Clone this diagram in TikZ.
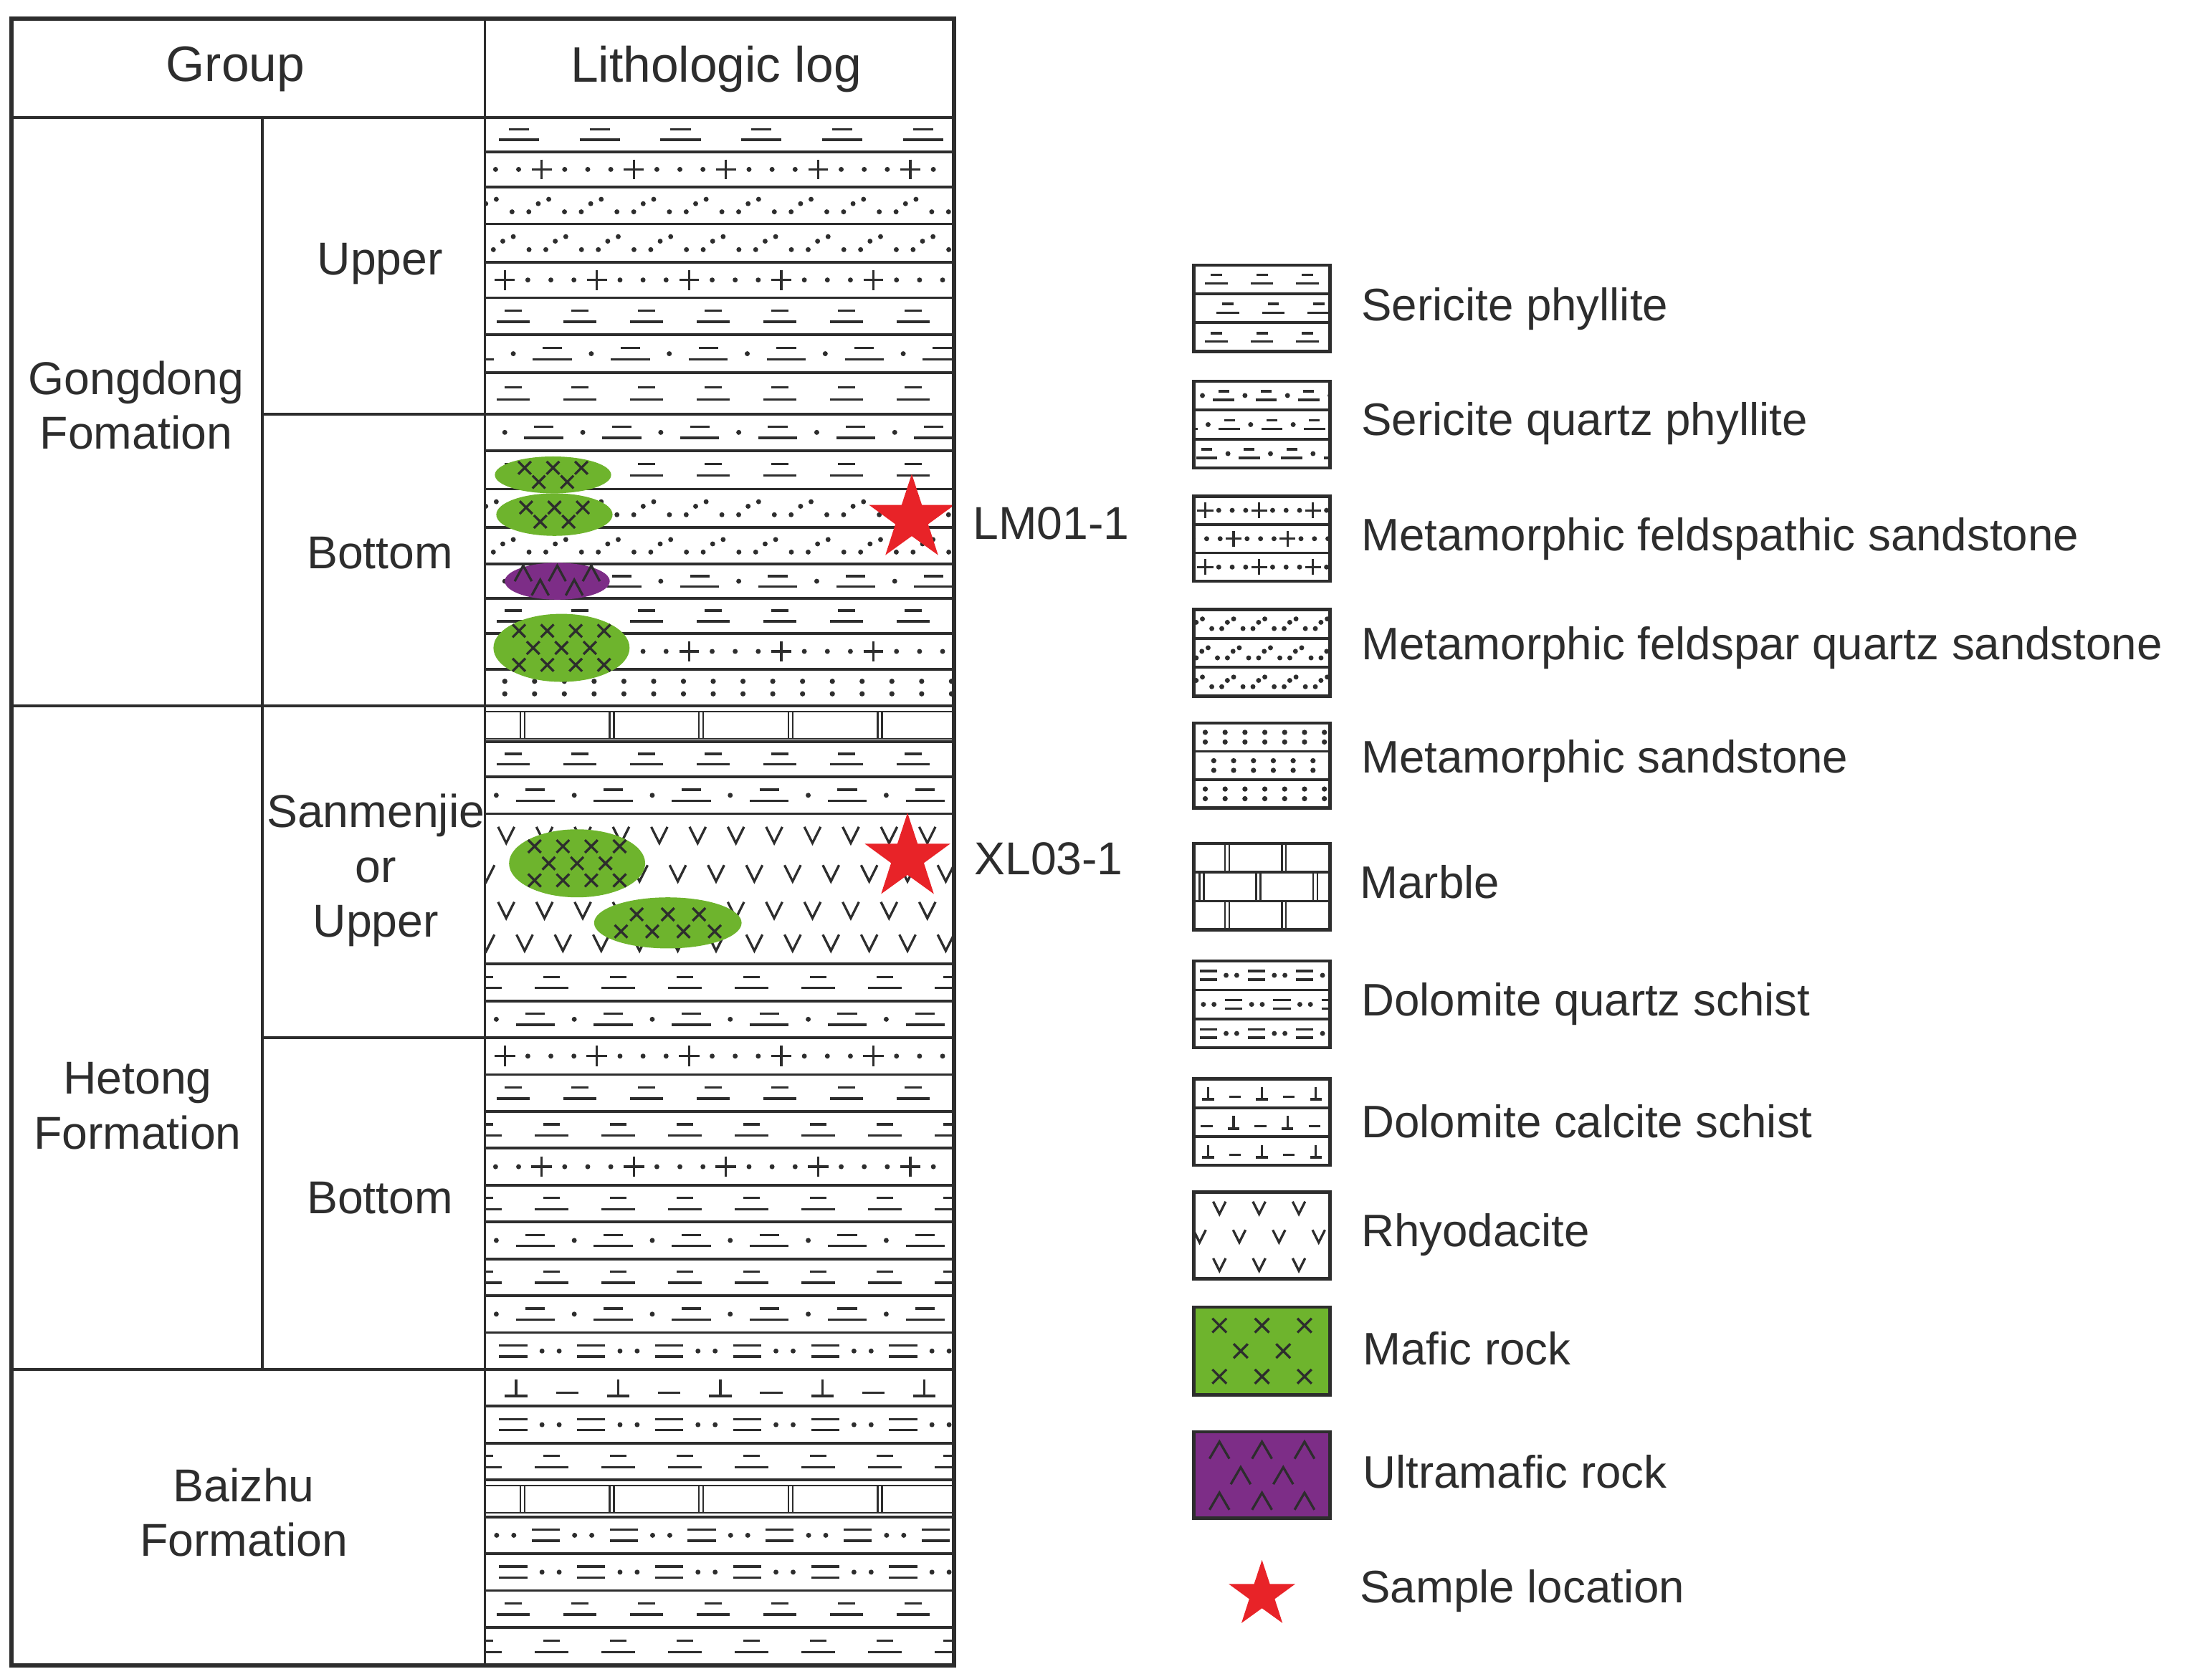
\documentclass[tikz,border=0pt]{standalone}
\usepackage{fontspec}\setmainfont{Liberation Sans}
\usetikzlibrary{shapes.geometric}
\definecolor{maf}{RGB}{110,180,45}
\definecolor{umaf}{RGB}{125,45,135}
\definecolor{sred}{RGB}{232,35,40}
\definecolor{ink}{RGB}{45,45,45}
\tikzset{pat/.style={draw=ink,line width=0.95pt},
 lay/.style={draw=ink,line width=1.1pt},
 frame/.style={draw=ink,line width=1.7pt},
 lab/.style={font=\fontsize{18.5}{22}\selectfont,text=ink,align=center},
 leg/.style={font=\fontsize{18.3}{21}\selectfont,text=ink,anchor=west},
 smp/.style={star,star points=5,star point ratio=2.6,fill=sred,inner sep=0pt,minimum size=36pt}}
% #1 xl #2 xr #3 yt #4 yb #5 offset #6 period
\newcommand\patP[6]{\begin{scope}\clip (#1,#3) rectangle (#2,#4);\pgfmathsetmacro\ym{(#3+#4)/2}\pgfmathsetmacro\dy{(#4-#3)*0.15}
\foreach \i in {-1,...,12}{\draw[pat] ({#1+#5+\i*#6-#6*0.25},{\ym+\dy}) -- ++({#6*0.5},0); \draw[pat] ({#1+#5+\i*#6-#6*0.125},{\ym-\dy}) -- ++({#6*0.25},0);}\end{scope}}
\newcommand\patQ[6]{\begin{scope}\clip (#1,#3) rectangle (#2,#4);\pgfmathsetmacro\ym{(#3+#4)/2}\pgfmathsetmacro\dy{(#4-#3)*0.15}
\foreach \i in {-1,...,12}{\fill[ink] ({#1+#5+\i*#6},\ym) circle (1pt); \draw[pat] ({#1+#5+\i*#6+#6*0.25},{\ym+\dy}) -- ++({#6*0.5},0); \draw[pat] ({#1+#5+\i*#6+#6*0.375},{\ym-\dy}) -- ++({#6*0.25},0);}\end{scope}}
\newcommand\patF[6]{\begin{scope}\clip (#1,#3) rectangle (#2,#4);\pgfmathsetmacro\ym{(#3+#4)/2}\pgfmathsetmacro\dy{(#4-#3)*0.28}
\foreach \i in {-1,...,12}{\draw[pat] ({#1+#5+\i*#6-\dy},\ym) -- ++({2*\dy},0) ({#1+#5+\i*#6},{\ym-\dy}) -- ++(0,{2*\dy});
\fill[ink] ({#1+#5+\i*#6+#6*0.25},\ym) circle (1pt) ({#1+#5+\i*#6+#6*0.5},\ym) circle (1pt) ({#1+#5+\i*#6+#6*0.75},\ym) circle (1pt);}\end{scope}}
\newcommand\patS[6]{\begin{scope}\clip (#1,#3) rectangle (#2,#4);\pgfmathsetmacro\ym{(#3+#4)/2}\pgfmathsetmacro\dy{(#4-#3)*0.17}
\foreach \i in {-1,...,16}{\fill[ink] ({#1+#5+\i*#6},{\ym-\dy}) circle (1pt) ({#1+#5+\i*#6+#6*0.3},{\ym+\dy}) circle (1pt) ({#1+#5+\i*#6+#6*0.62},{\ym+\dy}) circle (1pt) ({#1+#5+\i*#6+#6*0.8},{\ym-\dy*0.3}) circle (1pt);}\end{scope}}
\newcommand\patM[6]{\begin{scope}\clip (#1,#3) rectangle (#2,#4);\pgfmathsetmacro\ym{(#3+#4)/2}\pgfmathsetmacro\dy{(#4-#3)*0.17}
\foreach \i in {0,...,20}{\fill[ink] ({#1+#5+\i*#6},{\ym-\dy}) circle (1.05pt) ({#1+#5+\i*#6},{\ym+\dy}) circle (1.05pt);}\end{scope}}
\newcommand\patD[6]{\begin{scope}\clip (#1,#3) rectangle (#2,#4);\pgfmathsetmacro\ym{(#3+#4)/2}\pgfmathsetmacro\dy{(#4-#3)*0.15}
\foreach \i in {-1,...,12}{\draw[pat] ({#1+#5+\i*#6},{\ym-\dy}) -- ++({#6*0.36},0) ({#1+#5+\i*#6},{\ym+\dy}) -- ++({#6*0.36},0);
\fill[ink] ({#1+#5+\i*#6+#6*0.55},\ym) circle (1pt) ({#1+#5+\i*#6+#6*0.77},\ym) circle (1pt);}\end{scope}}
\newcommand\patC[6]{\begin{scope}\clip (#1,#3) rectangle (#2,#4);\pgfmathsetmacro\ym{(#3+#4)/2}\pgfmathsetmacro\dy{(#4-#3)*0.22}
\foreach \i in {-1,...,12}{\draw[pat] ({#1+#5+\i*#6-#6*0.11},{\ym+\dy}) -- ++({#6*0.22},0) ({#1+#5+\i*#6},{\ym+\dy}) -- ++(0,{-2*\dy}) ({#1+#5+\i*#6+#6*0.39},{\ym+\dy*0.6}) -- ++({#6*0.22},0);}\end{scope}}
\newcommand\patV[6]{\begin{scope}\clip (#1,#3) rectangle (#2,#4);\pgfmathsetmacro\ym{(#3+#4)/2}\pgfmathsetmacro\dy{(#4-#3)*0.22}
\foreach \i in {-1,...,14}{\draw[pat] ({#1+#5+\i*#6-\dy*1.0},{\ym-\dy}) -- ({#1+#5+\i*#6},{\ym+\dy}) -- ({#1+#5+\i*#6+\dy*1.0},{\ym-\dy});}\end{scope}}
\newcommand\patB[6]{\begin{scope}\clip (#1,#3) rectangle (#2,#4);
\foreach \i in {-1,...,12}{\draw[pat,line width=0.7pt] ({#1+#5+\i*#6},#3) -- ({#1+#5+\i*#6},#4) ({#1+#5+\i*#6+3},#3) -- ({#1+#5+\i*#6+3},#4);}\end{scope}}
% body: cx cy rx ry color mark(0 cross,1 caret) hspacing vspacing vshift
\newcommand\body[9]{\fill[#5] (#1,#2) ellipse [x radius=#3, y radius=#4];
\foreach \j in {-3,...,3}{\foreach \i in {-6,...,6}{
 \pgfmathsetmacro\px{#1+\i*#7+mod(abs(\j),2)*#7/2}\pgfmathsetmacro\py{#2+#9+\j*#8}
 \pgfmathtruncatemacro\ins{((\px-#1)/(#3-8))^2+((\py-#2)/(#4-3))^2<1 ? 1 : 0}
 \ifnum\ins=1 \ifnum#6=0 \draw[pat] (\px-4.5,\py-4.5) -- (\px+4.5,\py+4.5) (\px-4.5,\py+4.5) -- (\px+4.5,\py-4.5);\else \draw[pat] (\px-6,\py+5) -- (\px,\py-6) -- (\px+6,\py+5);\fi\fi}}}
\begin{document}
\begin{tikzpicture}[x=0.02cm,y=-0.02cm]
\useasboundingbox (0,0) rectangle (1560,1177);
\def\L{342}\def\R{673}
\patP{\L}{\R}{83}{107}{24}{57}
\patF{\L}{\R}{107}{132}{40}{65}
\patS{\L}{\R}{132}{158}{8}{37}
\patS{\L}{\R}{158}{185}{20}{37}
\patF{\L}{\R}{185}{210}{14}{65}
\patP{\L}{\R}{210}{236}{20}{47}
\patQ{\L}{\R}{236}{263}{20}{55}
\patP{\L}{\R}{263}{292}{20}{47}
\patQ{\L}{\R}{292}{318}{14}{55}
\patP{\L}{\R}{318}{345}{20}{47}
\patS{\L}{\R}{345}{372}{8}{37}
\patS{\L}{\R}{372}{398}{20}{37}
\patQ{\L}{\R}{398}{422}{14}{55}
\patP{\L}{\R}{422}{447}{20}{47}
\patF{\L}{\R}{447}{472}{14}{65}
\patM{\L}{\R}{472}{498}{14}{21}
\patB{\L}{\R}{502}{521}{25}{63}
\patP{\L}{\R}{523}{548}{20}{47}
\patQ{\L}{\R}{548}{574}{8}{55}
\patV{\L}{\R}{576}{602}{15}{27}
\patV{\L}{\R}{603}{629}{28}{27}
\patV{\L}{\R}{629}{655}{15}{27}
\patV{\L}{\R}{652}{678}{28}{27}
\patP{\L}{\R}{680}{706}{0}{47}
\patQ{\L}{\R}{706}{732}{8}{55}
\patF{\L}{\R}{732}{758}{14}{65}
\patP{\L}{\R}{758}{784}{20}{47}
\patP{\L}{\R}{784}{810}{0}{47}
\patF{\L}{\R}{810}{836}{40}{65}
\patP{\L}{\R}{836}{862}{0}{47}
\patQ{\L}{\R}{862}{888}{8}{55}
\patP{\L}{\R}{888}{914}{0}{47}
\patQ{\L}{\R}{914}{940}{8}{55}
\patD{\L}{\R}{940}{966}{10}{55}
\patC{\L}{\R}{966}{992}{22}{72}
\patD{\L}{\R}{992}{1018}{10}{55}
\patP{\L}{\R}{1018}{1044}{0}{47}
\patB{\L}{\R}{1048}{1067}{25}{63}
\patD{\L}{\R}{1070}{1096}{-22}{55}
\patD{\L}{\R}{1096}{1122}{10}{55}
\patP{\L}{\R}{1122}{1148}{20}{47}
\patP{\L}{\R}{1148}{1175}{0}{47}
\foreach \y in {107,132,158,185,210,236,263,292,318,345,372,398,422,447,472,498,523,548,574,680,706,732,758,784,810,836,862,888,914,940,966,992,1018,1044,1070,1096,1122,1148}{\draw[lay] (\L,\y) -- (\R,\y);}
\draw[pat,line width=0.6pt] (\L,502) -- (\R,502) (\L,521) -- (\R,521) (\L,1048) -- (\R,1048) (\L,1067) -- (\R,1067);
\body{390}{335}{41}{13}{maf}{0}{20}{10}{-5}
\body{391}{363}{41}{15}{maf}{0}{20}{10}{-5}
\body{393}{410}{37}{13}{umaf}{1}{24}{10}{-5}
\body{396}{457}{48}{24}{maf}{0}{20}{12}{0}
\body{407}{609}{48}{24}{maf}{0}{20}{12}{0}
\body{471}{651}{52}{18}{maf}{0}{22}{12}{-6}
\node[smp] (s1) at (643,366) {};
\node[smp] (s2) at (640,605) {};
\node[lab,anchor=west] (l1) at (680,369) {LM01-1};
\node[lab,anchor=west] (l2) at (681,606) {XL03-1};
\draw[frame] (8,13) rectangle (673,1175);
\draw[lay] (8,83) -- (673,83);
\draw[lay] (342,13) -- (342,1175);
\draw[lay] (185,83) -- (185,966);
\draw[lay] (8,498) -- (342,498) (8,966) -- (342,966);
\draw[lay] (185,292) -- (342,292) (185,732) -- (342,732);
\node[lab,font=\fontsize{20}{24}\selectfont] (hg) at (166,49) {Group};
\node[lab,font=\fontsize{20}{24}\selectfont] (hl) at (505,49) {Lithologic log};
\node[lab] (gd) at (96,286) {Gongdong\\Fomation};
\node[lab] (up1) at (268,186) {Upper};
\node[lab] (bt1) at (268,390) {Bottom};
\node[lab] (ht) at (97,780) {Hetong\\Formation};
\node[lab] (sm) at (265,614) {Sanmenjie\\or\\Upper};
\node[lab] (bt2) at (268,845) {Bottom};
\node[lab] (bz) at (172,1067) {Baizhu\\Formation};
\def\a{842}\def\b{938}
\patP{\a}{\b}{187}{207}{16}{32}\patP{\a}{\b}{207}{228}{24}{32}\patP{\a}{\b}{228}{248}{16}{32}
\patQ{\a}{\b}{269}{289}{6}{30}\patQ{\a}{\b}{289}{310}{10}{30}\patQ{\a}{\b}{310}{330}{-6}{30}
\patF{\a}{\b}{350}{370}{8}{38}\patF{\a}{\b}{370}{390}{28}{38}\patF{\a}{\b}{390}{410}{8}{38}
\patS{\a}{\b}{430}{450}{6}{22}\patS{\a}{\b}{450}{471}{10}{22}\patS{\a}{\b}{471}{491}{6}{22}
\patM{\a}{\b}{510}{530}{8}{14}\patM{\a}{\b}{530}{550}{14}{14}\patM{\a}{\b}{550}{570}{8}{14}
\patB{\a}{\b}{595}{615}{22}{40}\patB{\a}{\b}{615}{636}{44}{40}\patB{\a}{\b}{636}{656}{22}{40}
\patD{\a}{\b}{678}{698}{4}{34}\patD{\a}{\b}{698}{719}{-12}{34}\patD{\a}{\b}{719}{739}{4}{34}
\patC{\a}{\b}{761}{781}{10}{38}\patC{\a}{\b}{781}{802}{28}{38}\patC{\a}{\b}{802}{822}{10}{38}
\patV{\a}{\b}{842}{862}{18}{28}\patV{\a}{\b}{862}{882}{32}{28}\patV{\a}{\b}{882}{902}{18}{28}
\foreach \t/\bb in {187/248,269/330,350/410,430/491,510/570,595/656,678/739,761/822}{
 \pgfmathsetmacro\hh{(\bb-\t)/3}
 \draw[lay] (\a,{\t+\hh}) -- (\b,{\t+\hh}) (\a,{\t+2*\hh}) -- (\b,{\t+2*\hh});}
\fill[maf] (\a,922) rectangle (\b,984);
\foreach \px/\py in {860/935,890/935,920/935,875/953,905/953,860/971,890/971,920/971}{\draw[pat] (\px-5,\py-5) -- (\px+5,\py+5) (\px-5,\py+5) -- (\px+5,\py-5);}
\fill[umaf] (\a,1010) rectangle (\b,1071);
\foreach \px/\py in {860/1023,890/1023,920/1023,875/1041,905/1041,860/1059,890/1059,920/1059}{\draw[pat] (\px-7,\py+6) -- (\px,\py-6) -- (\px+7,\py+6);}
\foreach \t/\bb in {187/248,269/330,350/410,430/491,510/570,595/656,678/739,761/822,841/902,922/984,1010/1071}{\draw[frame,line width=1.3pt] (\a,\t) rectangle (\b,\bb);}
\node[smp,minimum size=28pt] (s3) at (890,1125) {};
\node[leg] (g1) at (954,218) {Sericite phyllite};
\node[leg] (g2) at (954,299) {Sericite quartz phyllite};
\node[leg] (g3) at (954,380) {Metamorphic feldspathic sandstone};
\node[leg] (g4) at (954,457) {Metamorphic feldspar quartz sandstone};
\node[leg] (g5) at (954,537) {Metamorphic sandstone};
\node[leg] (g6) at (953,622) {Marble};
\node[leg] (g7) at (954,708) {Dolomite quartz schist};
\node[leg] (g8) at (954,791) {Dolomite calcite schist};
\node[leg] (g9) at (954,871) {Rhyodacite};
\node[leg] (g10) at (955,951) {Mafic\ rock};
\node[leg] (g11) at (955,1038) {Ultramafic rock};
\node[leg] (g12) at (953,1122) {Sample location};
\end{tikzpicture}
\end{document}
